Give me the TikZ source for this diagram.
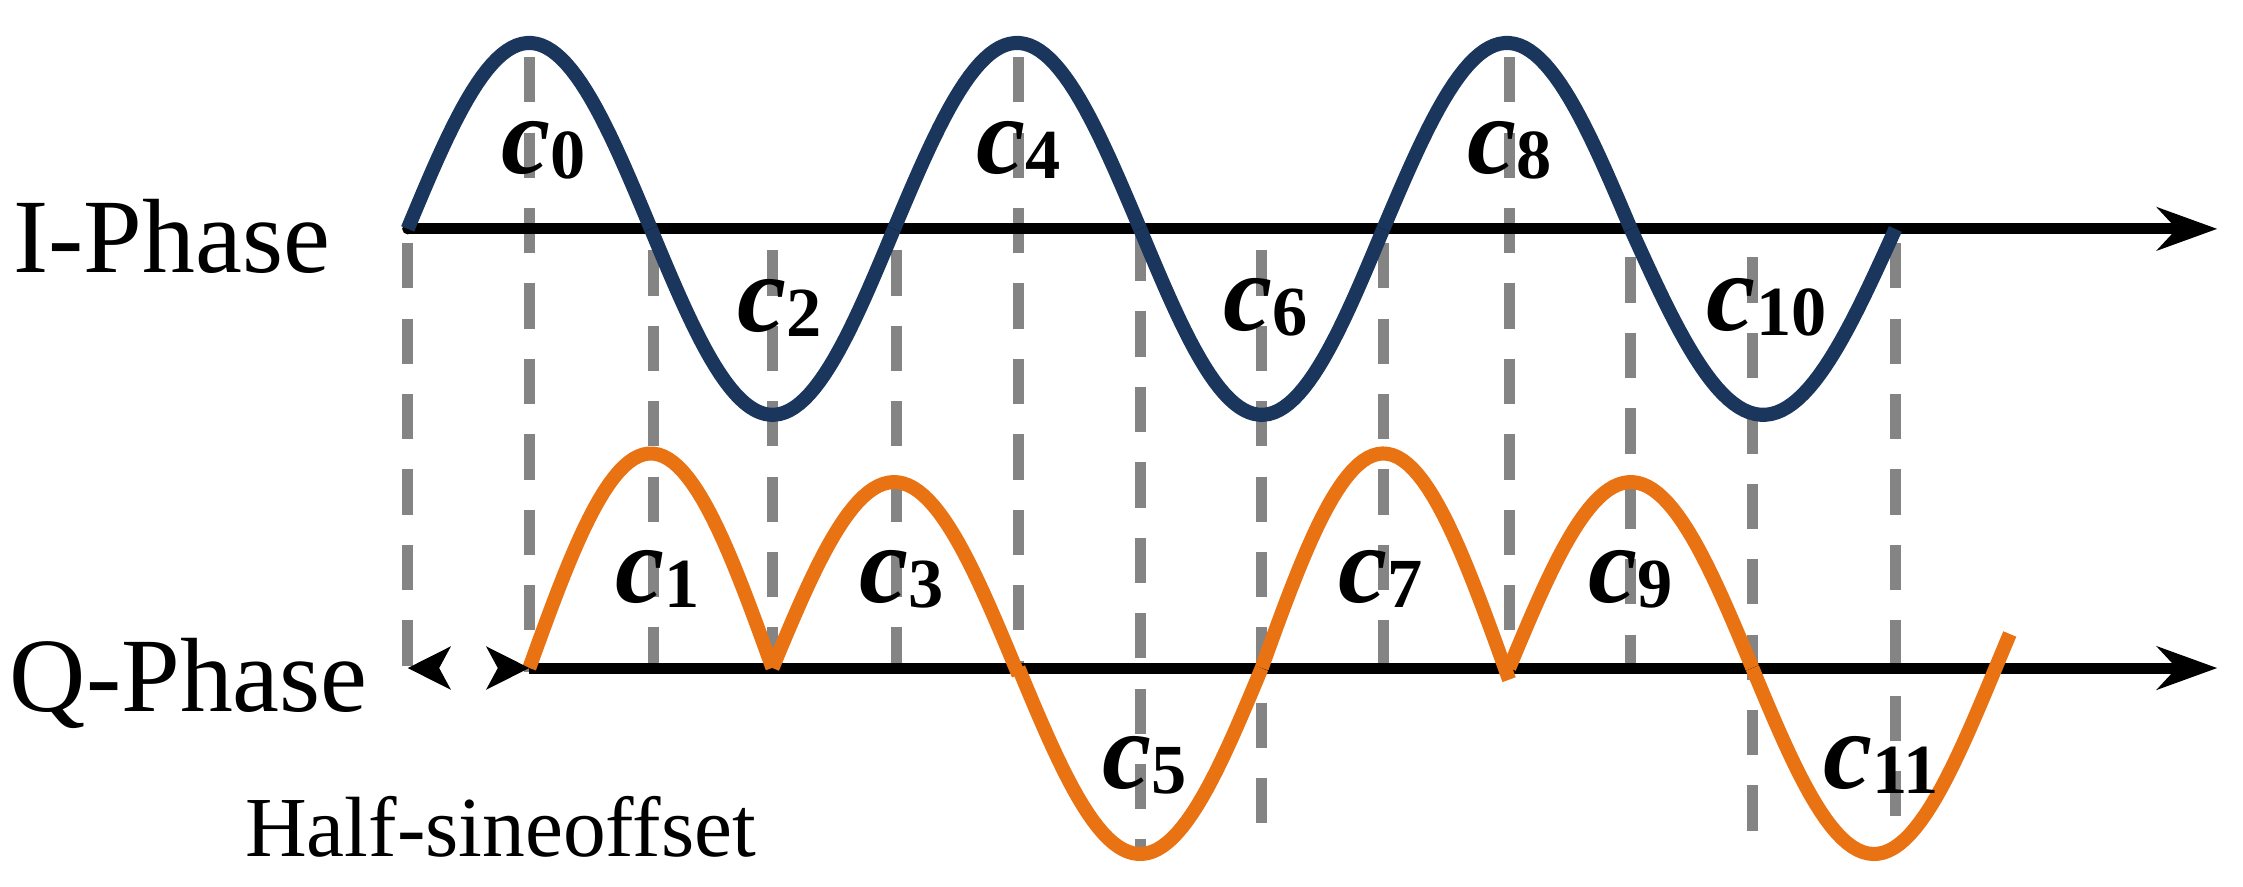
\documentclass[tikz,border=0pt]{standalone}
\usepackage{fontspec}
\setmainfont{Liberation Serif}
\usetikzlibrary{arrows.meta}
\definecolor{iblue}{HTML}{1B365D}
\definecolor{qorange}{HTML}{E97213}
\definecolor{guidegray}{HTML}{777777}
\tikzset{
  axis/.style={line width=2.2pt, -{Stealth[length=0.42cm,width=0.3cm]}},
  guide/.style={guidegray, opacity=0.9, line width=2.2pt, dash pattern=on 9pt off 6pt},
  iwave/.style={iblue, line width=2.8pt, line join=round},
  qwave/.style={qorange, line width=2.8pt, line join=round},
  clab/.style={font=\fontsize{22}{22}\selectfont\bfseries\itshape, inner sep=0pt},
  plab/.style={font=\fontsize{21}{21}\selectfont, inner sep=0pt}
}
\newcommand{\cc}[1]{c\raisebox{-1pt}{\fontsize{14}{14}\selectfont\upshape #1}}
\begin{document}
\begin{tikzpicture}
\useasboundingbox (0,0) rectangle (15.68,6.2);
% guide lines
\foreach \x/\t/\b in {2.85/4.5/1.5, 3.7/5.8/1.5, 4.57/4.45/1.55, 5.4/4.45/1.55,
  6.27/4.45/1.55, 7.12/5.8/1.55, 7.97/4.55/0.25, 8.82/4.45/0.25, 9.67/4.5/1.55,
  10.55/5.8/1.55, 11.4/4.4/1.55, 12.25/4.4/0.25, 13.25/4.5/0.25}
  \draw [guide] (\x,\t) -- (\x,\b);
% axes
\coordinate (i0) at (2.85,4.6);
\coordinate (i1) at (15.5,4.6);
\coordinate (q0) at (3.7,1.53);
\coordinate (q1) at (15.5,1.53);
\draw [axis] (i0) -- (i1);
\fill (i0) circle (1.1pt);
\draw [axis] (q0) -- (q1);
% waves
\foreach \a/\b/\A in {2.85/4.55/1.3, 4.55/6.25/-1.3, 6.25/7.97/1.3, 7.97/9.67/-1.3,
  9.67/11.4/1.3, 11.4/13.25/-1.3}
  \draw [iwave] plot[domain=\a:\b, samples=50] (\x, {4.6+\A*sin(180*(\x-\a)/(\b-\a))});
\foreach \a/\b/\A in {3.7/5.4/1.5, 5.4/7.12/1.3, 7.12/8.82/-1.3, 8.82/10.55/1.5,
  10.55/12.25/1.3, 12.25/14.05/-1.3}
  \draw [qwave] plot[domain=\a:\b, samples=50] (\x, {1.53+\A*sin(180*(\x-\a)/1.7)});
% offset marker
\coordinate (h0) at (2.85,1.53);
\coordinate (h1) at (3.7,1.53);
\draw [line width=1pt, dash pattern=on 0pt off 2cm, {Stealth[length=0.3cm,width=0.3cm,inset=0.08cm]}-{Stealth[length=0.3cm,width=0.3cm,inset=0.08cm]}] (h0) -- (h1);
% labels
\node [plab] (ip) at (1.2,4.55) {I-Phase};
\node [plab] (qp) at (1.32,1.42) {Q-Phase};
\node [plab, font=\fontsize{17}{17}\selectfont] (hs) at (3.5,0.42) {Half-sineoffset};
\foreach \n/\x/\y in {0/3.8/5.15, 2/5.45/4.05, 4/7.12/5.15, 6/8.85/4.05, 8/10.55/5.15,
  10/12.35/4.05, 1/4.6/2.15, 3/6.3/2.15, 5/8.0/0.85, 7/9.65/2.15, 9/11.4/2.15, 11/13.15/0.85}
  \node [clab] (c\n) at (\x,\y) {\cc{\n}};
\end{tikzpicture}
\end{document}
